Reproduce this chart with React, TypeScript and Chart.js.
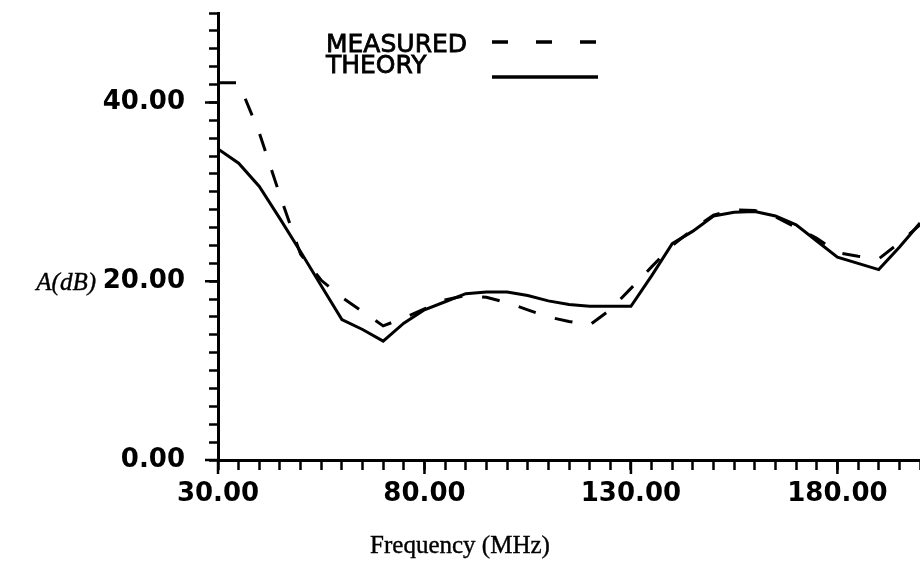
import React, { useEffect, useRef } from "react";
import { Chart, registerables } from "chart.js";

Chart.register(...registerables);

// Frequency grid (MHz)
const frequencies = [
  30, 35, 40, 45, 50, 55, 60, 65, 70, 75, 80, 85, 90, 95, 100, 105, 110, 115,
  120, 125, 130, 135, 140, 145, 150, 155, 160, 165, 170, 175, 180, 185, 190, 195, 200,
];

// Measured attenuation A (dB)
const measured = [
  42.2, 42.2, 36.6, 29.6, 23.0, 20.1, 18.2, 16.6, 15.0, 15.9, 16.9, 17.9, 18.4, 18.2,
  17.6, 16.8, 16.0, 15.5, 15.1, 16.8, 19.2, 21.6, 24.0, 25.8, 27.4, 28.0, 27.9, 27.2,
  26.0, 24.8, 23.2, 22.8, 22.5, 24.3, 26.3,
];

// Theoretical attenuation A (dB)
const theory = [
  34.8, 33.2, 30.6, 27.0, 23.3, 19.5, 15.7, 14.6, 13.3, 15.3, 16.8, 17.7, 18.6, 18.8,
  18.8, 18.4, 17.8, 17.4, 17.2, 17.2, 17.2, 20.6, 24.2, 25.6, 27.3, 27.7, 27.8, 27.3,
  26.3, 24.5, 22.7, 22.0, 21.3, 23.8, 26.5,
];

const xTickLabels = [30, 80, 130, 180];
const yTickLabels = [0, 20, 40];
const seriesNames = ["MEASURED", "THEORY"];
const xTitle = "Frequency (MHz)";
const yTitle = "A(dB)";

const overlayPlugin = {
  id: "overlay",
  afterDraw(chart: any) {
    const ctx = chart.ctx;
    const xs = chart.scales.x;
    const ys = chart.scales.y;
    ctx.save();
    ctx.fillStyle = "#000";
    ctx.strokeStyle = "#000";
    // longer major ticks
    ctx.lineWidth = 2.5;
    ctx.beginPath();
    for (const v of xTickLabels) {
      const px = xs.getPixelForValue(v);
      ctx.moveTo(px, ys.bottom);
      ctx.lineTo(px, ys.bottom + 14);
    }
    for (const v of yTickLabels) {
      const py = ys.getPixelForValue(v);
      ctx.moveTo(xs.left, py);
      ctx.lineTo(xs.left - 13, py);
    }
    ctx.stroke();
    // legend
    ctx.font = "25px 'DejaVu Sans'";
    ctx.textBaseline = "alphabetic";
    ctx.textAlign = "left";
    ctx.lineWidth = 0.8;
    ctx.fillText(seriesNames[0], 326, 52);
    ctx.strokeText(seriesNames[0], 326, 52);
    ctx.fillText(seriesNames[1], 326, 73);
    ctx.strokeText(seriesNames[1], 326, 73);
    ctx.lineWidth = 3.5;
    ctx.setLineDash([16, 28]);
    ctx.beginPath();
    ctx.moveTo(492, 42);
    ctx.lineTo(600, 42);
    ctx.stroke();
    ctx.setLineDash([]);
    ctx.beginPath();
    ctx.moveTo(492, 77);
    ctx.lineTo(598, 77);
    ctx.stroke();
    // axis titles
    ctx.font = "25px 'Liberation Serif'";
    ctx.textAlign = "center";
    ctx.lineWidth = 0.4;
    ctx.fillText(xTitle, 460, 553);
    ctx.strokeText(xTitle, 460, 553);
    ctx.font = "italic 25px 'Liberation Serif'";
    ctx.textAlign = "right";
    ctx.fillText(yTitle, 96, 290);
    ctx.strokeText(yTitle, 96, 290);
    ctx.restore();
  },
};

export default function App() {
  const ref = useRef<HTMLCanvasElement | null>(null);

  useEffect(() => {
    if (!ref.current) return;
    const chart = new Chart(ref.current, {
      type: "line",
      data: {
        datasets: [
          {
            label: seriesNames[0],
            data: frequencies.map((f, i) => ({ x: f, y: measured[i] })),
            borderColor: "#000",
            borderWidth: 3,
            borderDash: [18, 20],
            pointRadius: 0,
            tension: 0,
            fill: false,
          },
          {
            label: seriesNames[1],
            data: frequencies.map((f, i) => ({ x: f, y: theory[i] })),
            borderColor: "#000",
            borderWidth: 3,
            pointRadius: 0,
            tension: 0,
            fill: false,
          },
        ],
      },
      options: {
        animation: false,
        responsive: false,
        maintainAspectRatio: false,
        layout: { padding: { top: 13, right: 0, left: 0, bottom: 0 } },
        plugins: {
          legend: { display: false },
          tooltip: { enabled: false },
        },
        scales: {
          x: {
            type: "linear",
            min: 30,
            max: 200,
            afterFit: (s: any) => {
              s.height = 105;
              s.paddingLeft = 0;
              s.paddingRight = 0;
            },
            border: { display: true, color: "#000", width: 3 },
            grid: {
              drawOnChartArea: false,
              drawTicks: true,
              tickLength: 10,
              tickWidth: 2.5,
              tickColor: "#000",
            },
            ticks: {
              stepSize: 5,
              autoSkip: false,
              maxRotation: 0,
              padding: 9,
              color: "#000",
              font: { family: "'DejaVu Sans'", size: 26, weight: "bold" },
              callback: (v: any) => (xTickLabels.includes(Number(v)) ? Number(v).toFixed(2) : ""),
            },
          },
          y: {
            type: "linear",
            min: 0,
            max: 50,
            afterFit: (s: any) => {
              s.width = 218;
              s.paddingTop = 0;
              s.paddingBottom = 0;
            },
            border: { display: true, color: "#000", width: 3 },
            grid: {
              drawOnChartArea: false,
              drawTicks: true,
              tickLength: 9,
              tickWidth: 2.5,
              tickColor: "#000",
            },
            ticks: {
              stepSize: 2,
              autoSkip: false,
              padding: 24,
              color: "#000",
              font: { family: "'DejaVu Sans'", size: 26, weight: "bold" },
              callback: (v: any) => (yTickLabels.includes(Number(v)) ? Number(v).toFixed(2) : ""),
            },
          },
        },
      },
      plugins: [overlayPlugin],
    });
    return () => chart.destroy();
  }, []);

  return (
    <div style={{ position: "absolute", left: 0, top: 0, width: 920, height: 565, background: "#fff" }}>
      <canvas ref={ref} width={920} height={565} style={{ display: "block" }} />
    </div>
  );
}
